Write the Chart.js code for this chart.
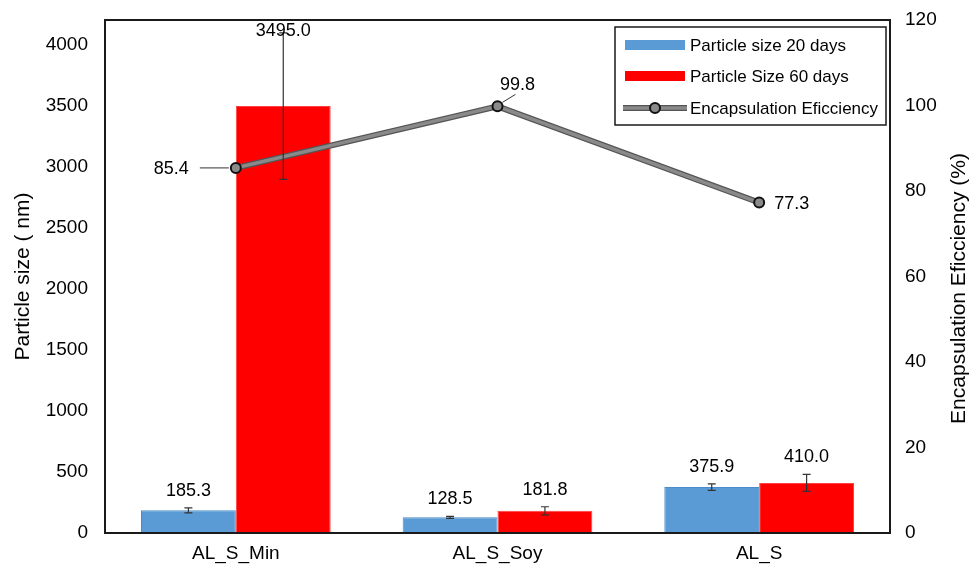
<!DOCTYPE html>
<html>
<head>
<meta charset="utf-8">
<script src="https://cdn.jsdelivr.net/npm/chart.js@4.4.1/dist/chart.umd.min.js"></script>
<style>
  html, body { margin: 0; padding: 0; background: #fff; }
</style>
</head>
<body>
<canvas id="myChart" width="972" height="567"></canvas>
<script>
var categories = ['AL_S_Min', 'AL_S_Soy', 'AL_S'];
var size20 = [185.3, 128.5, 375.9];
var size20Err = [20, 8, 27];
var size60 = [3495.0, 181.8, 410.0];
var size60Err = [600, 33, 70];
var efficiency = [85.4, 99.8, 77.3];
var leftTicks = [0, 500, 1000, 1500, 2000, 2500, 3000, 3500, 4000];
var rightTicks = [0, 20, 40, 60, 80, 100, 120];
var seriesNames = ['Particle size 20 days', 'Particle Size 60 days', 'Encapsulation Eficciency'];
var leftTitle = 'Particle size ( nm)';
var rightTitle = 'Encapsulation Eficciency (%)';

var FONT = "'Liberation Sans', Arial, sans-serif";
var BLUE = '#5b9bd5';
var RED = '#ff0000';

// draws the frame, error bars, value labels, axis titles and the legend box
var extras = {
  id: 'extras',
  beforeDatasetDraw: function(chart, args) {
    // darker outline under the efficiency line
    if (args.index !== 2) return;
    var pts = chart.getDatasetMeta(2).data;
    var ctx = chart.ctx;
    ctx.save();
    ctx.strokeStyle = '#555';
    ctx.lineWidth = 6;
    ctx.lineJoin = 'round';
    ctx.beginPath();
    pts.forEach(function(p, i) { if (i === 0) ctx.moveTo(p.x, p.y); else ctx.lineTo(p.x, p.y); });
    ctx.stroke();
    ctx.restore();
  },
  afterDatasetsDraw: function(chart) {
    var ctx = chart.ctx;
    var y = chart.scales.y;
    var area = chart.chartArea;
    ctx.save();
    // error bars
    ctx.strokeStyle = '#333';
    ctx.lineWidth = 1.2;
    [[0, size20, size20Err], [1, size60, size60Err]].forEach(function(s) {
      var meta = chart.getDatasetMeta(s[0]);
      meta.data.forEach(function(bar, i) {
        var top = y.getPixelForValue(s[1][i] + s[2][i]);
        var bot = y.getPixelForValue(s[1][i] - s[2][i]);
        ctx.beginPath();
        ctx.moveTo(bar.x, top); ctx.lineTo(bar.x, bot);
        ctx.moveTo(bar.x - 4, top); ctx.lineTo(bar.x + 4, top);
        ctx.moveTo(bar.x - 4, bot); ctx.lineTo(bar.x + 4, bot);
        ctx.stroke();
      });
    });
    // bar value labels
    ctx.fillStyle = '#000';
    ctx.font = '18px ' + FONT;
    ctx.textAlign = 'center';
    ctx.textBaseline = 'middle';
    [[0, size20, size20Err], [1, size60, size60Err]].forEach(function(s) {
      var meta = chart.getDatasetMeta(s[0]);
      meta.data.forEach(function(bar, i) {
        var ty = Math.max(y.getPixelForValue(s[1][i] + s[2][i]) - 17, area.top + 11);
        ctx.fillText(s[1][i].toFixed(1), bar.x, ty);
      });
    });
    ctx.restore();
  },
  afterDraw: function(chart) {
    var ctx = chart.ctx;
    var area = chart.chartArea;
    ctx.save();
    // plot frame
    ctx.strokeStyle = '#1a1a1a';
    ctx.lineWidth = 2;
    ctx.strokeRect(area.left, area.top, area.right - area.left, area.bottom - area.top);

    // efficiency labels with leader lines
    var pts = chart.getDatasetMeta(2).data;
    ctx.font = '18px ' + FONT;
    ctx.fillStyle = '#000';
    ctx.strokeStyle = '#333';
    ctx.lineWidth = 1;
    ctx.textBaseline = 'middle';
    var p0 = pts[0], p1 = pts[1], p2 = pts[2];
    ctx.beginPath();
    ctx.moveTo(p0.x - 36, p0.y); ctx.lineTo(p0.x - 7, p0.y);
    ctx.moveTo(p1.x + 5, p1.y - 4); ctx.lineTo(p1.x + 18, p1.y - 12);
    ctx.stroke();
    ctx.textAlign = 'right';
    ctx.fillText(efficiency[0].toFixed(1), p0.x - 47, p0.y + 1);
    ctx.textAlign = 'center';
    ctx.fillText(efficiency[1].toFixed(1), p1.x + 20, p1.y - 21);
    ctx.textAlign = 'left';
    ctx.fillText(efficiency[2].toFixed(1), p2.x + 15, p2.y + 1);

    // axis titles
    ctx.font = '21px ' + FONT;
    ctx.textAlign = 'center';
    ctx.save();
    ctx.translate(23, (area.top + area.bottom) / 2);
    ctx.rotate(-Math.PI / 2);
    ctx.fillText(leftTitle, 0, 0);
    ctx.restore();
    ctx.save();
    ctx.translate(959, (area.top + area.bottom) / 2 + 12);
    ctx.rotate(-Math.PI / 2);
    ctx.fillText(rightTitle, 0, 0);
    ctx.restore();

    // legend
    var lx = 615, ly = 27, lw = 271, lh = 98;
    ctx.fillStyle = '#fff';
    ctx.fillRect(lx, ly, lw, lh);
    ctx.strokeStyle = '#1a1a1a';
    ctx.lineWidth = 1.5;
    ctx.strokeRect(lx, ly, lw, lh);
    var rows = [ly + 18, ly + 49, ly + 81];
    ctx.fillStyle = BLUE;
    ctx.fillRect(lx + 10, rows[0] - 5, 60, 10);
    ctx.fillStyle = RED;
    ctx.fillRect(lx + 10, rows[1] - 5, 60, 10);
    ctx.strokeStyle = '#555';
    ctx.lineWidth = 6;
    ctx.beginPath(); ctx.moveTo(lx + 8, rows[2]); ctx.lineTo(lx + 72, rows[2]); ctx.stroke();
    ctx.strokeStyle = '#8a8a8a';
    ctx.lineWidth = 3.5;
    ctx.beginPath(); ctx.moveTo(lx + 8, rows[2]); ctx.lineTo(lx + 72, rows[2]); ctx.stroke();
    ctx.fillStyle = '#8a8a8a';
    ctx.strokeStyle = '#111';
    ctx.lineWidth = 2;
    ctx.beginPath(); ctx.arc(lx + 40, rows[2], 5, 0, Math.PI * 2); ctx.fill(); ctx.stroke();
    ctx.fillStyle = '#000';
    ctx.font = '17px ' + FONT;
    ctx.textAlign = 'left';
    seriesNames.forEach(function(n, i) { ctx.fillText(n, lx + 75, rows[i] + 1); });
    ctx.restore();
  }
};

function setTicks(list) {
  return function(scale) {
    scale.ticks = list.map(function(v) { return { value: v }; });
  };
}

var ctx = document.getElementById('myChart').getContext('2d');
var myChart = new Chart(ctx, {
  type: 'bar',
  data: {
    labels: categories,
    datasets: [{
      label: seriesNames[0],
      data: size20,
      backgroundColor: BLUE,
      borderColor: '#4a8ccb',
      borderWidth: 1,
      barPercentage: 1,
      categoryPercentage: 0.725,
      yAxisID: 'y',
      order: 1
    }, {
      label: seriesNames[1],
      data: size60,
      backgroundColor: RED,
      borderColor: '#ff4040',
      borderWidth: 1,
      barPercentage: 1,
      categoryPercentage: 0.725,
      yAxisID: 'y',
      order: 1
    }, {
      type: 'line',
      label: seriesNames[2],
      data: efficiency,
      borderColor: '#8a8a8a',
      borderWidth: 3.5,
      tension: 0,
      pointRadius: 5,
      pointBackgroundColor: '#8a8a8a',
      pointBorderColor: '#111',
      pointBorderWidth: 2,
      yAxisID: 'y1',
      order: 0
    }]
  },
  options: {
    responsive: false,
    animation: false,
    layout: { padding: { top: 20, left: 0, right: 0, bottom: 0 } },
    plugins: { legend: { display: false }, tooltip: { enabled: false } },
    scales: {
      x: {
        grid: { display: false, drawTicks: false },
        border: { display: false },
        ticks: { color: '#000', font: { family: FONT, size: 19 }, padding: 9 },
        afterFit: function(s) { s.height = 34; }
      },
      y: {
        position: 'left',
        min: 0,
        max: 4200,
        grid: { display: true, drawOnChartArea: false, drawTicks: true, tickLength: 14, tickColor: 'rgba(0,0,0,0)' },
        border: { display: false },
        afterBuildTicks: setTicks(leftTicks),
        ticks: { color: '#000', font: { family: FONT, size: 19 }, padding: 3,
          callback: function(v) { return String(v); } },
        afterFit: function(s) { s.width = 105; }
      },
      y1: {
        position: 'right',
        min: 0,
        max: 120,
        grid: { display: true, drawOnChartArea: false, drawTicks: true, tickLength: 12, tickColor: 'rgba(0,0,0,0)' },
        border: { display: false },
        afterBuildTicks: setTicks(rightTicks),
        ticks: { color: '#000', font: { family: FONT, size: 19 }, padding: 3,
          callback: function(v) { return String(v); } },
        afterFit: function(s) { s.width = 82; }
      }
    }
  },
  plugins: [extras]
});
</script>
</body>
</html>
